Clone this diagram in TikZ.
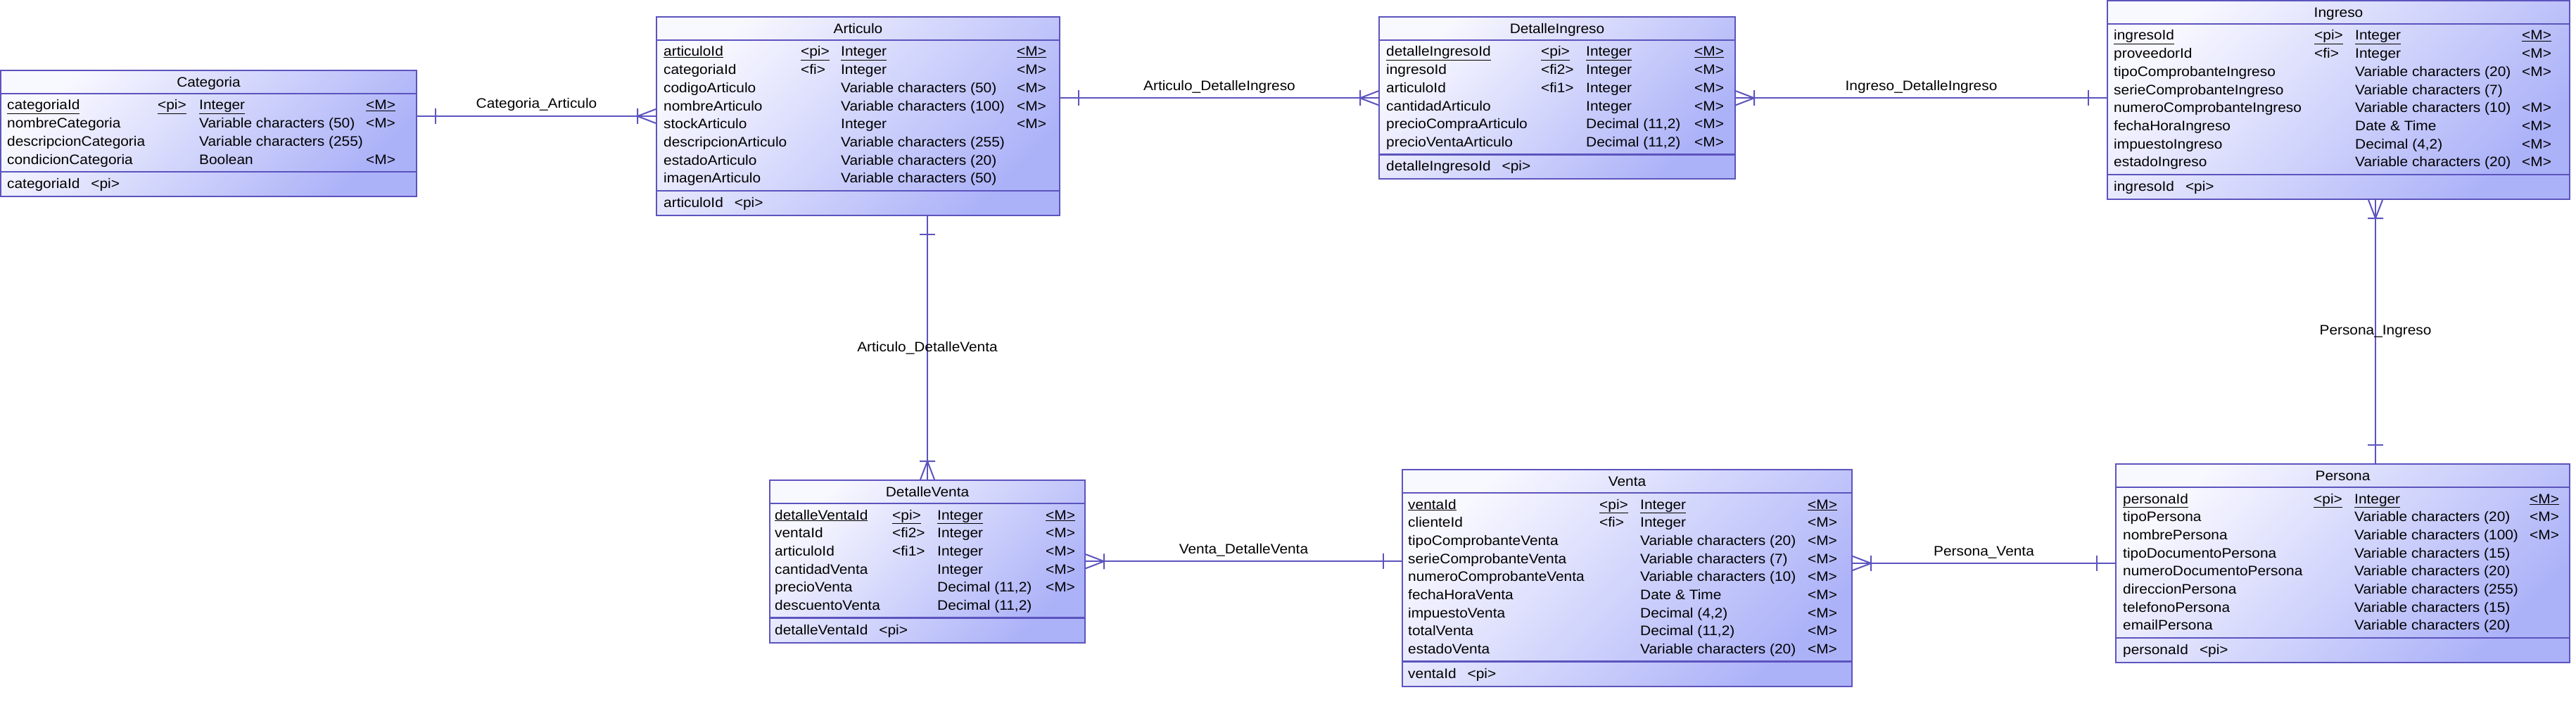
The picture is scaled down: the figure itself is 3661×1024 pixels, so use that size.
\documentclass[tikz,border=0pt]{standalone}
\usepackage{fontspec}
\setmainfont{Liberation Sans}[FakeStretch=1.07]
\usetikzlibrary{calc}

\definecolor{erline}{RGB}{92,84,190}
\definecolor{erlight}{RGB}{248,248,255}
\definecolor{erdark}{RGB}{172,178,248}

\begin{document}
\begin{tikzpicture}[x=1pt, y=-1pt,
    every node/.style={font=\fontsize{19.5}{23}\selectfont, inner sep=0pt},
    entity/.style={draw=erline, line width=2pt, top color=erlight, bottom color=erdark, shading angle=45},
    ttl/.style={anchor=base},
    row/.style={anchor=base west},
    sepline/.style={draw=erline, line width=2.5pt},
    rel/.style={draw=erline, line width=2pt},
    lbl/.style={anchor=base, yshift=11pt},
    vlbl/.style={anchor=center},
    one/.pic={\draw[rel] (-26,-11) -- (-26,11);},
    many/.pic={\draw[rel] (-26,-11) -- (-26,11) (-26,0) -- (0,-10) (-26,0) -- (0,10);}]

    \path[use as bounding box, fill=white] (0,0) rectangle (3661,1024);

    % Categoria
    \begin{scope}[shift={(1,100)}]
        \node[entity, minimum width=591, minimum height=179] (categoria) at (295.5,89.5) {};
        \node[ttl] (categoria-t) at (295.5,23.5) {Categoria};
        \draw[sepline] (0,33) -- (591,33) (0,144.1) -- (591,144.1);
        \foreach \n/\k/\t/\m [count=\i] in {
            \underline{categoriaId}/\underline{<pi>}/\underline{Integer}/\underline{<M>},
            nombreCategoria/{}/Variable characters (50)/<M>,
            descripcionCategoria/{}/Variable characters (255)/{},
            condicionCategoria/{}/Boolean/<M>}
            \node[row] (categoria-\i) at (9,{56+(\i-1)*25.7}) {\makebox[214pt][l]{\n}\makebox[59pt][l]{\k}\makebox[237pt][l]{\t}\m};
        \node[row] (categoria-pk) at (9,167.6) {categoriaId\hspace{16pt}<pi>};
    \end{scope}

    % Articulo
    \begin{scope}[shift={(933,24)}]
        \node[entity, minimum width=573, minimum height=282] (articulo) at (286.5,141) {};
        \node[ttl] (articulo-t) at (286.5,23.5) {Articulo};
        \draw[sepline] (0,33) -- (573,33) (0,246.9) -- (573,246.9);
        \foreach \n/\k/\t/\m [count=\i] in {
            \underline{articuloId}/\underline{<pi>}/\underline{Integer}/\underline{<M>},
            categoriaId/<fi>/Integer/<M>,
            codigoArticulo/{}/Variable characters (50)/<M>,
            nombreArticulo/{}/Variable characters (100)/<M>,
            stockArticulo/{}/Integer/<M>,
            descripcionArticulo/{}/Variable characters (255)/{},
            estadoArticulo/{}/Variable characters (20)/{},
            imagenArticulo/{}/Variable characters (50)/{}}
            \node[row] (articulo-\i) at (10,{56+(\i-1)*25.7}) {\makebox[195pt][l]{\n}\makebox[57pt][l]{\k}\makebox[250pt][l]{\t}\m};
        \node[row] (articulo-pk) at (10,270.4) {articuloId\hspace{16pt}<pi>};
    \end{scope}

    % DetalleIngreso
    \begin{scope}[shift={(1960,24)}]
        \node[entity, minimum width=506, minimum height=230.5] (detalleingreso) at (253,115.25) {};
        \node[ttl] (detalleingreso-t) at (253,23.5) {DetalleIngreso};
        \draw[sepline] (0,33) -- (506,33) (0,195.5) -- (506,195.5);
        \foreach \n/\k/\t/\m [count=\i] in {
            \underline{detalleIngresoId}/\underline{<pi>}/\underline{Integer}/\underline{<M>},
            ingresoId/<fi2>/Integer/<M>,
            articuloId/<fi1>/Integer/<M>,
            cantidadArticulo/{}/Integer/<M>,
            precioCompraArticulo/{}/Decimal (11{,}2)/<M>,
            precioVentaArticulo/{}/Decimal (11{,}2)/<M>}
            \node[row] (detalleingreso-\i) at (10,{56+(\i-1)*25.7}) {\makebox[220pt][l]{\n}\makebox[64pt][l]{\k}\makebox[154pt][l]{\t}\m};
        \node[row] (detalleingreso-pk) at (10,219) {detalleIngresoId\hspace{16pt}<pi>};
    \end{scope}

    % Ingreso
    \begin{scope}[shift={(2995,1)}]
        \node[entity, minimum width=657, minimum height=282] (ingreso) at (328.5,141) {};
        \node[ttl] (ingreso-t) at (328.5,23.5) {Ingreso};
        \draw[sepline] (0,33) -- (657,33) (0,246.9) -- (657,246.9);
        \foreach \n/\k/\t/\m [count=\i] in {
            \underline{ingresoId}/\underline{<pi>}/\underline{Integer}/\underline{<M>},
            proveedorId/<fi>/Integer/<M>,
            tipoComprobanteIngreso/{}/Variable characters (20)/<M>,
            serieComprobanteIngreso/{}/Variable characters (7)/{},
            numeroComprobanteIngreso/{}/Variable characters (10)/<M>,
            fechaHoraIngreso/{}/Date \& Time/<M>,
            impuestoIngreso/{}/Decimal (4{,}2)/<M>,
            estadoIngreso/{}/Variable characters (20)/<M>}
            \node[row] (ingreso-\i) at (9,{56+(\i-1)*25.7}) {\makebox[285pt][l]{\n}\makebox[58pt][l]{\k}\makebox[237pt][l]{\t}\m};
        \node[row] (ingreso-pk) at (9,270.4) {ingresoId\hspace{16pt}<pi>};
    \end{scope}

    % DetalleVenta
    \begin{scope}[shift={(1094,682)}]
        \node[entity, minimum width=448, minimum height=230.5] (detalleventa) at (224,115.25) {};
        \node[ttl] (detalleventa-t) at (224,23.5) {DetalleVenta};
        \draw[sepline] (0,33) -- (448,33) (0,195.5) -- (448,195.5);
        \foreach \n/\k/\t/\m [count=\i] in {
            \underline{detalleVentaId}/\underline{<pi>}/\underline{Integer}/\underline{<M>},
            ventaId/<fi2>/Integer/<M>,
            articuloId/<fi1>/Integer/<M>,
            cantidadVenta/{}/Integer/<M>,
            precioVenta/{}/Decimal (11{,}2)/<M>,
            descuentoVenta/{}/Decimal (11{,}2)/{}}
            \node[row] (detalleventa-\i) at (7,{56+(\i-1)*25.7}) {\makebox[167pt][l]{\n}\makebox[64pt][l]{\k}\makebox[154pt][l]{\t}\m};
        \node[row] (detalleventa-pk) at (7,219) {detalleVentaId\hspace{16pt}<pi>};
    \end{scope}

    % Venta
    \begin{scope}[shift={(1993,667)}]
        \node[entity, minimum width=639, minimum height=307.6] (venta) at (319.5,153.8) {};
        \node[ttl] (venta-t) at (319.5,23.5) {Venta};
        \draw[sepline] (0,33) -- (639,33) (0,272.6) -- (639,272.6);
        \foreach \n/\k/\t/\m [count=\i] in {
            \underline{ventaId}/\underline{<pi>}/\underline{Integer}/\underline{<M>},
            clienteId/<fi>/Integer/<M>,
            tipoComprobanteVenta/{}/Variable characters (20)/<M>,
            serieComprobanteVenta/{}/Variable characters (7)/<M>,
            numeroComprobanteVenta/{}/Variable characters (10)/<M>,
            fechaHoraVenta/{}/Date \& Time/<M>,
            impuestoVenta/{}/Decimal (4{,}2)/<M>,
            totalVenta/{}/Decimal (11{,}2)/<M>,
            estadoVenta/{}/Variable characters (20)/<M>}
            \node[row] (venta-\i) at (8,{56+(\i-1)*25.7}) {\makebox[272pt][l]{\n}\makebox[58pt][l]{\k}\makebox[238pt][l]{\t}\m};
        \node[row] (venta-pk) at (8,296.1) {ventaId\hspace{16pt}<pi>};
    \end{scope}

    % Persona
    \begin{scope}[shift={(3007,659)}]
        \node[entity, minimum width=645, minimum height=282] (persona) at (322.5,141) {};
        \node[ttl] (persona-t) at (322.5,23.5) {Persona};
        \draw[sepline] (0,33) -- (645,33) (0,246.9) -- (645,246.9);
        \foreach \n/\k/\t/\m [count=\i] in {
            \underline{personaId}/\underline{<pi>}/\underline{Integer}/\underline{<M>},
            tipoPersona/{}/Variable characters (20)/<M>,
            nombrePersona/{}/Variable characters (100)/<M>,
            tipoDocumentoPersona/{}/Variable characters (15)/{},
            numeroDocumentoPersona/{}/Variable characters (20)/{},
            direccionPersona/{}/Variable characters (255)/{},
            telefonoPersona/{}/Variable characters (15)/{},
            emailPersona/{}/Variable characters (20)/{}}
            \node[row] (persona-\i) at (10,{56+(\i-1)*25.7}) {\makebox[271pt][l]{\n}\makebox[58pt][l]{\k}\makebox[249pt][l]{\t}\m};
        \node[row] (persona-pk) at (10,270.4) {personaId\hspace{16pt}<pi>};
    \end{scope}

    % Relationships
    \draw[rel] (articulo.west -| categoria.east) -- node[lbl] (categoria-articulo) {Categoria\_Articulo} (articulo.west);
    \pic[rotate=180] at (articulo.west -| categoria.east) {one};
    \pic at (articulo.west) {many};

    \draw[rel] (detalleingreso.west -| articulo.east) -- node[lbl] (articulo-detalleingreso) {Articulo\_DetalleIngreso} (detalleingreso.west);
    \pic[rotate=180] at (detalleingreso.west -| articulo.east) {one};
    \pic at (detalleingreso.west) {many};

    \draw[rel] (detalleingreso.east) -- node[lbl] (ingreso-detalleingreso) {Ingreso\_DetalleIngreso} (detalleingreso.east -| ingreso.west);
    \pic[rotate=180] at (detalleingreso.east) {many};
    \pic at (detalleingreso.east -| ingreso.west) {one};

    \draw[rel] (detalleventa.north |- articulo.south) -- node[vlbl] (articulo-detalleventa) {Articulo\_DetalleVenta} (detalleventa.north);
    \pic[rotate=90] at (detalleventa.north |- articulo.south) {one};
    \pic[rotate=-90] at (detalleventa.north) {many};

    \draw[rel] (detalleventa.east) -- node[lbl] (venta-detalleventa) {Venta\_DetalleVenta} (detalleventa.east -| venta.west);
    \pic[rotate=180] at (detalleventa.east) {many};
    \pic at (detalleventa.east -| venta.west) {one};

    \draw[rel] (persona.west -| venta.east) -- node[lbl] (persona-venta) {Persona\_Venta} (persona.west);
    \pic[rotate=180] at (persona.west -| venta.east) {many};
    \pic at (persona.west) {one};

    \coordinate (persona-top) at ([xshift=46.5pt]persona.north);
    \draw[rel] (persona-top |- ingreso.south) -- node[vlbl] (persona-ingreso) {Persona\_Ingreso} (persona-top);
    \pic[rotate=90] at (persona-top |- ingreso.south) {many};
    \pic[rotate=-90] at (persona-top) {one};

\end{tikzpicture}
\end{document}
